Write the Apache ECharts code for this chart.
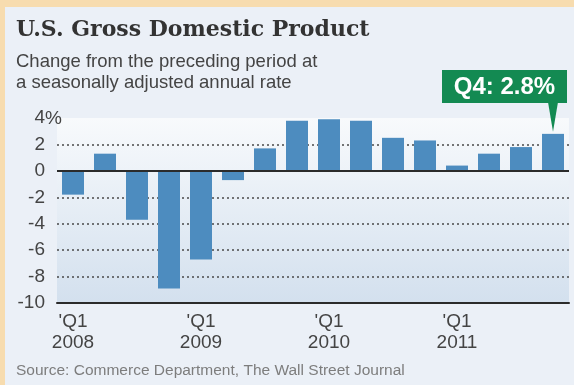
<!DOCTYPE html>
<html>
<head>
<meta charset="utf-8">
<script src="https://cdn.jsdelivr.net/npm/echarts@6/dist/echarts.min.js"></script>
<style>
html,body{margin:0;padding:0;background:#f7dcaf;}
#c{width:574px;height:385px;}
</style>
</head>
<body>
<div id="c"></div>
<script>
// Data
const quarters = ['Q1 2008','Q2 2008','Q3 2008','Q4 2008','Q1 2009','Q2 2009','Q3 2009','Q4 2009',
                  'Q1 2010','Q2 2010','Q3 2010','Q4 2010','Q1 2011','Q2 2011','Q3 2011','Q4 2011'];
const gdpChange = [-1.8, 1.3, -3.7, -8.9, -6.7, -0.7, 1.7, 3.8, 3.9, 3.8, 2.5, 2.3, 0.4, 1.3, 1.8, 2.8];
const yTicks = [-10, -8, -6, -4, -2, 0, 2, 4];
const titleText = 'U.S. Gross Domestic Product';
const subtitleText = 'Change from the preceding period at\na seasonally adjusted annual rate';
const sourceText = 'Source: Commerce Department, The Wall Street Journal';

const chart = echarts.init(document.getElementById('c'));
const gridColors = yTicks.map(v => (v === -10 || v === 0 || v === 4) ? 'rgba(0,0,0,0)' : '#4a4a4a');
const FONT = '"Liberation Sans", Arial, sans-serif';

const option = {
  backgroundColor: '#f7dcaf',
  animation: false,
  graphic: [
    { type: 'rect', z: -10, shape: { x: 5, y: 7, width: 569, height: 378 }, style: { fill: '#ebf0f7' } },
    { type: 'text', left: 16, top: 19, style: { text: titleText, font: 'bold 22px "DejaVu Serif"', fill: '#333333' } },
    { type: 'text', left: 16, top: 51, style: { text: subtitleText, font: '18.5px ' + FONT, fill: '#444444', lineHeight: 21 } },
    { type: 'text', left: 16, top: 363, style: { text: sourceText, font: '15.5px ' + FONT, fill: '#7d7d7d' } }
  ],
  grid: { left: 57, top: 118, width: 512, height: 185, show: true, borderWidth: 0,
    backgroundColor: new echarts.graphic.LinearGradient(0, 0, 0, 1, [
      { offset: 0, color: '#f8fafc' }, { offset: 1, color: '#d3e0ee' }]) },
  xAxis: {
    type: 'category', data: quarters,
    axisLine: { onZero: false, lineStyle: { color: '#2b2b2b', width: 2 } },
    axisTick: { inside: true, length: 7, alignWithLabel: true, interval: 0, lineStyle: { color: '#2b2b2b', width: 1.5 } },
    axisLabel: { interval: 0, margin: 8, color: '#444', fontSize: 19, fontFamily: FONT, lineHeight: 21,
      formatter: v => { const p = v.split(' '); return p[0] === 'Q1' ? "'Q1\n" + p[1] : ''; } }
  },
  yAxis: {
    type: 'value', min: -10, max: 4, interval: 2,
    axisLine: { show: false }, axisTick: { show: false },
    axisLabel: { color: '#444', fontSize: 19, fontFamily: FONT, margin: 12,
      formatter: v => String(v) },
    splitLine: { lineStyle: { color: gridColors, type: [2, 3], width: 1.5 } }
  },
  series: [{
    type: 'bar', data: gdpChange, barWidth: 22,
    itemStyle: { color: '#4d8cbf' },
    markLine: { silent: true, symbol: 'none', label: { show: false },
      lineStyle: { color: '#2b2b2b', width: 2, type: 'solid' }, data: [{ yAxis: 0 }] }
  }]
};
chart.setOption(option);

// Annotation badge for the latest quarter
const lastIdx = gdpChange.length - 1;
const lastVal = gdpChange[lastIdx];
const pt = chart.convertToPixel({ gridIndex: 0 }, [lastIdx, lastVal]);
const pctPt = chart.convertToPixel({ gridIndex: 0 }, [0, yTicks[yTicks.length - 1]]);
const badgeRight = 567, badgeW = 125, badgeTop = 70, badgeH = 33;
chart.setOption({
  graphic: option.graphic.concat([
    { type: 'rect', shape: { x: badgeRight - badgeW, y: badgeTop, width: badgeW, height: badgeH }, style: { fill: '#138a52' }, z: 20 },
    { type: 'polygon', shape: { points: [[pt[0] - 5, badgeTop + badgeH - 1], [pt[0] + 5, badgeTop + badgeH - 1], [pt[0], pt[1] - 2]] }, style: { fill: '#138a52' }, z: 20 },
    { type: 'text', x: badgeRight - badgeW / 2, y: badgeTop + badgeH / 2 + 1, z: 21,
      style: { text: 'Q4: ' + lastVal.toFixed(1) + '%', font: 'bold 24px ' + FONT, fill: '#ffffff', align: 'center', verticalAlign: 'middle' } },
    { type: 'text', x: 45, y: pctPt[1] + 1, z: 21,
      style: { text: '%', font: '19px ' + FONT, fill: '#444', align: 'left', verticalAlign: 'middle' } }
  ])
});
</script>
</body>
</html>
